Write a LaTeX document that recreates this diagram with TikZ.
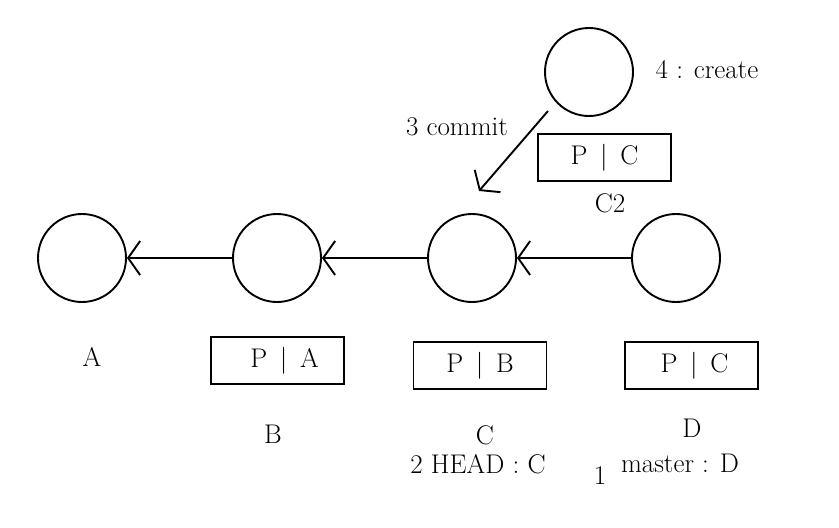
\documentclass[tikz,border=0pt]{standalone}
\usetikzlibrary{arrows.meta}
\begin{document}
\begin{tikzpicture}[x=1pt, y=-1pt, font=\fontsize{27}{32}\selectfont,
  commit/.style={draw, circle, line width=1.9pt, minimum size=88pt, inner sep=0pt},
  parent/.style={draw, rectangle, line width=1.9pt, minimum width=133pt, minimum height=47pt, inner sep=0pt},
  tag/.style={anchor=base, inner sep=0pt},
  link/.style={-{Straight Barb[length=12pt, width=34pt]}, line width=1.9pt}]
\useasboundingbox (0,0) rectangle (839,528);
\node[commit] (nA) at (82,258) {};
\node[commit] (nB) at (277,258) {};
\node[commit] (nC) at (472,258) {};
\node[commit] (nD) at (676,258) {};
\node[commit] (nC2) at (589,72) {};
\node[parent] (pB) at (277.5,360.5) {\hspace{14pt}P \,|\, A};
\node[parent] (pC) at (480,365.5) {P \,|\, B};
\node[parent] (pD) at (691.5,365.5) {\hspace{6pt}P \,|\, C};
\node[parent] (pC2) at (604.5,157.5) {P \,|\, C};
\node[tag] (tA) at (92,366) {A};
\node[tag] (tB) at (273,443) {B};
\node[tag] (tC) at (485,444) {C};
\node[tag] (tD) at (692,437) {D};
\node[tag] (tC2) at (610,212) {C2};
\node[tag] (tCreate) at (707,78) {4 : create};
\node[tag] (tCommit) at (457,135) {3 commit};
\node[tag] (tHead) at (478,473) {2 HEAD : C};
\node[tag] (tOne) at (600,484) {1};
\node[tag] (tMaster) at (680,472) {master : D};
\coordinate (cmS) at (548,111);
\coordinate (cmE) at (479,191);
\draw[link] (nB) -- (nA);
\draw[link] (nC) -- (nB);
\draw[link] (nD) -- (nC);
\draw[link] (cmS) -- (cmE);
\end{tikzpicture}
\end{document}
